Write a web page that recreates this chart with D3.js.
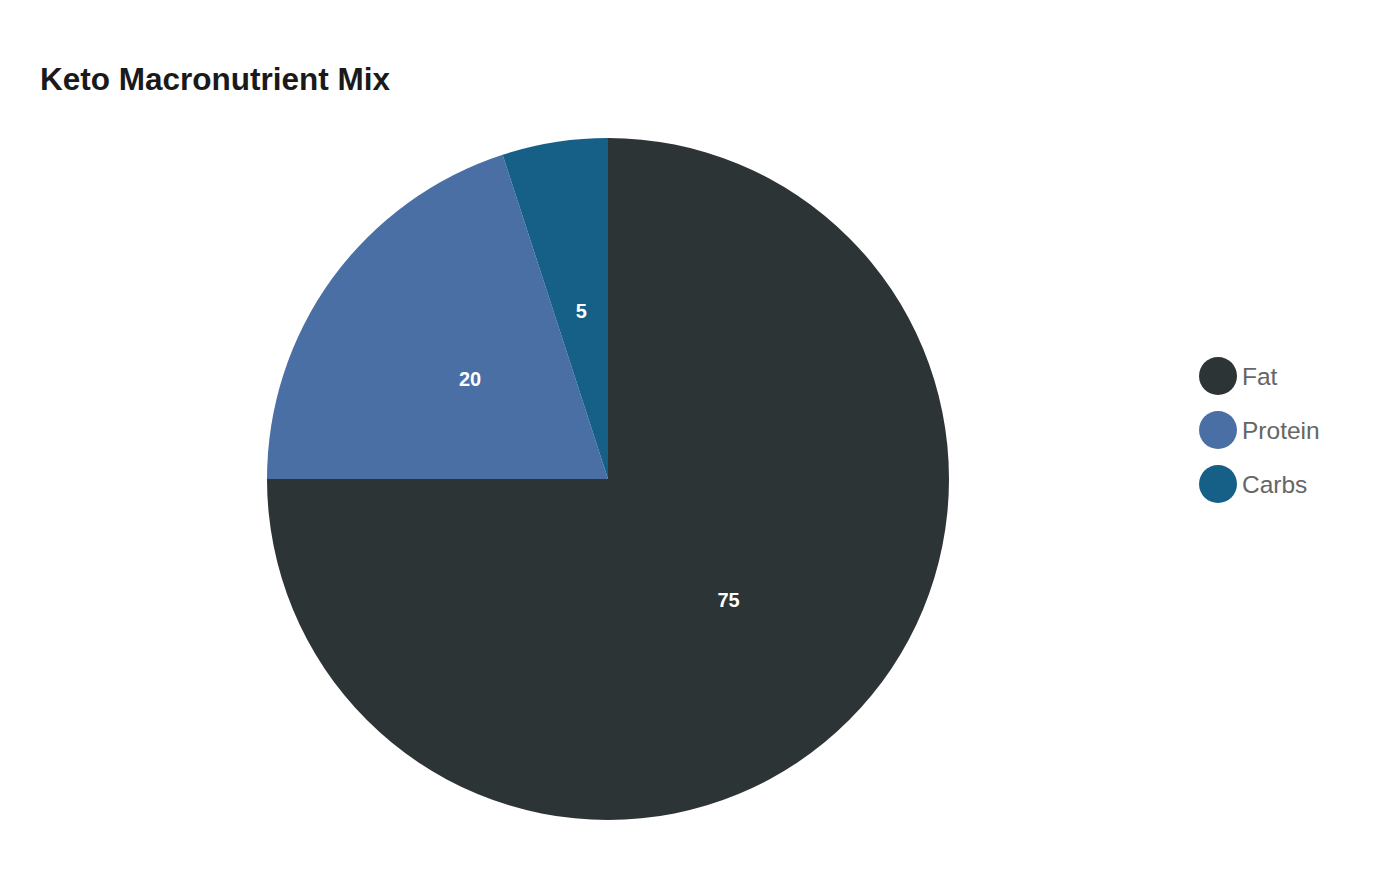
<!DOCTYPE html>
<html>
<head>
<meta charset="utf-8">
<script src="https://cdn.jsdelivr.net/npm/d3@7"></script>
<style>
  html, body { margin: 0; padding: 0; background: #fff; }
  svg { display: block; font-family: "Liberation Sans", Arial, sans-serif; }
</style>
</head>
<body>
<svg id="chart"></svg>
<script>
// chart data
const categories = ["Fat", "Protein", "Carbs"];
const values = [75, 20, 5];
const colors = ["#2d3436", "#4a6fa5", "#166088"];

const width = 1400;
const height = 880;
const cx = 608, cy = 479, radius = 341;

const svg = d3.select("#chart")
  .attr("width", width)
  .attr("height", height);

// title
svg.append("text")
  .attr("x", 40)
  .attr("y", 90)
  .attr("font-size", 31.5)
  .attr("font-weight", "bold")
  .attr("fill", "#1a1a1a")
  .text("Keto Macronutrient Mix");

const data = categories.map((c, i) => ({ name: c, value: values[i] }));

const color = d3.scaleOrdinal()
  .domain(categories)
  .range(colors);

const pie = d3.pie()
  .value(d => d.value)
  .sort(null);

const arc = d3.arc()
  .innerRadius(0)
  .outerRadius(radius);

const g = svg.append("g")
  .attr("transform", `translate(${cx},${cy})`);

const slices = g.selectAll(".slice")
  .data(pie(data))
  .enter()
  .append("g")
  .attr("class", "slice");

slices.append("path")
  .attr("d", arc)
  .attr("fill", d => color(d.data.name));

// value labels at arc centroid
slices.append("text")
  .attr("transform", d => `translate(${arc.centroid(d)})`)
  .attr("text-anchor", "middle")
  .attr("dy", "0.35em")
  .attr("font-size", 20)
  .attr("font-weight", "bold")
  .attr("fill", "#fff")
  .text(d => d.data.value);

// legend
const legendY = d3.scalePoint()
  .domain(categories)
  .range([376, 484]);

const legend = svg.append("g")
  .selectAll(".legend-item")
  .data(categories)
  .enter()
  .append("g")
  .attr("class", "legend-item")
  .attr("transform", d => `translate(1218,${legendY(d)})`);

legend.append("circle")
  .attr("r", 19)
  .attr("fill", d => color(d));

legend.append("text")
  .attr("x", 24)
  .attr("dy", "0.35em")
  .attr("font-size", 24.5)
  .attr("fill", "#666")
  .text(d => d);
</script>
</body>
</html>
